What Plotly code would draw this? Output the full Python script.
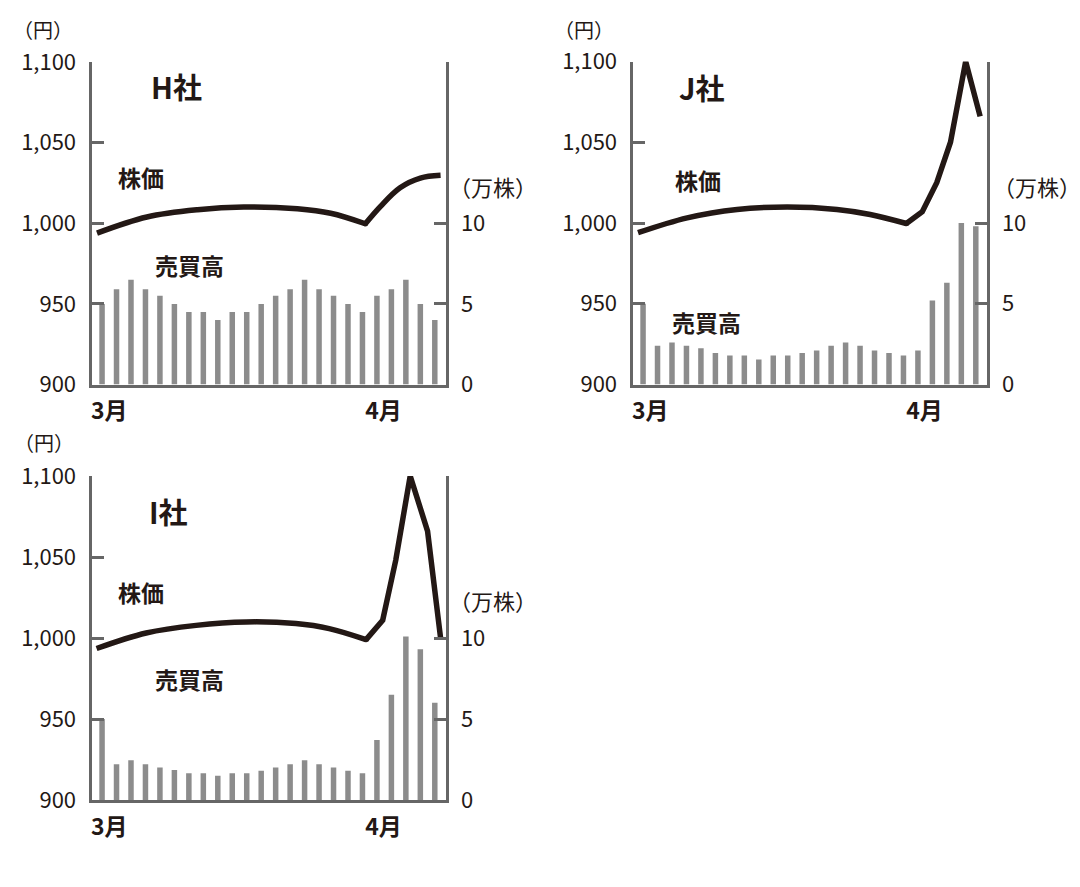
import plotly.graph_objects as go

W, H = 1080, 887

days = list(range(24))

# 売買高 (万株)
vol_H = [5.0, 5.9, 6.5, 5.9, 5.5, 5.0, 4.5, 4.5, 4.0, 4.5, 4.5, 5.0,
         5.5, 5.9, 6.5, 5.9, 5.5, 5.0, 4.5, 5.5, 5.9, 6.5, 5.0, 4.0]
vol_J = [5.0, 2.4, 2.6, 2.4, 2.25, 1.95, 1.8, 1.8, 1.55, 1.8, 1.8, 1.95,
         2.1, 2.4, 2.6, 2.4, 2.1, 1.95, 1.8, 2.1, 5.2, 6.3, 10.0, 9.8]
vol_I = [5.0, 2.2, 2.45, 2.2, 2.0, 1.85, 1.65, 1.65, 1.5, 1.65, 1.65, 1.8,
         2.0, 2.2, 2.45, 2.2, 2.0, 1.8, 1.65, 3.7, 6.5, 10.1, 9.3, 6.0]

# 株価 (円) : smooth part up to the dip, then the April part
curve_x_H = [-0.35, 3.1, 6.6, 9.8, 13.5, 15.8, 18.2]
curve_y_H = [993.9, 1003.9, 1008.4, 1010.1, 1009.0, 1006.2, 999.7]
rise_x_H = [18.2, 19.25, 20.6, 22.0, 23.4]
rise_y_H = [999.7, 1010.5, 1022.0, 1028.0, 1029.7]

curve_x_J = [-0.35, 3.05, 6.5, 9.97, 13.4, 15.7, 18.2]
curve_y_J = [994.0, 1003.2, 1008.4, 1009.9, 1008.4, 1005.3, 999.7]
rise_x_J = [18.2, 19.3, 20.3, 21.25, 22.3, 23.3]
rise_y_J = [999.7, 1007.0, 1025.0, 1050.0, 1100.0, 1066.0]

curve_x_I = [-0.38, 3.05, 6.5, 9.97, 13.4, 15.7, 18.25]
curve_y_I = [993.5, 1003.1, 1007.8, 1009.9, 1008.9, 1005.8, 999.0]
rise_x_I = [18.25, 19.4, 20.3, 21.3, 22.5, 23.4]
rise_y_I = [999.0, 1011.0, 1048.0, 1100.0, 1066.0, 1000.0]

price_ticks = [900, 950, 1000, 1050, 1100]
price_labels = ["900", "950", "1,000", "1,050", "1,100"]
vol_ticks = [0, 5, 10]
vol_labels = ["0", "5", "10"]
month_ticks = [0.5, 19.45]
month_labels = ["3月", "4月"]

INK = "#231815"
AXIS = "#666666"
BAR = "#8c8c8c"
FONT = "Noto Sans CJK JP"


def px(x, y):
    return x / W, 1 - y / H


panels = [
    dict(name="H社", vol=vol_H, cx=curve_x_H, cy=curve_y_H, rx=rise_x_H, ry=rise_y_H,
         rshape="spline", xd=(91.5, 445.5), yd=(62, 384.5)),
    dict(name="J社", vol=vol_J, cx=curve_x_J, cy=curve_y_J, rx=rise_x_J, ry=rise_y_J,
         rshape="linear", xd=(632.5, 986.5), yd=(61.5, 384.5)),
    dict(name="I社", vol=vol_I, cx=curve_x_I, cy=curve_y_I, rx=rise_x_I, ry=rise_y_I,
         rshape="linear", xd=(91.5, 445.5), yd=(476, 800)),
]

fig = go.Figure()
layout = dict(
    template="none",
    width=W, height=H, margin=dict(l=0, r=0, t=0, b=0, pad=0, autoexpand=False),
    paper_bgcolor="white", plot_bgcolor="rgba(0,0,0,0)",
    showlegend=False, font=dict(family=FONT, color=INK, size=20),
    annotations=[],
)

for k, p in enumerate(panels):
    xs = "x" if k == 0 else f"x{k+1}"
    yv_i = 2 * k + 1
    yp_i = 2 * k + 2
    yv = "y" if yv_i == 1 else f"y{yv_i}"
    yp = f"y{yp_i}"
    xkey = "xaxis" if k == 0 else f"xaxis{k+1}"
    yvkey = "yaxis" if yv_i == 1 else f"yaxis{yv_i}"
    ypkey = f"yaxis{yp_i}"

    x0, x1 = p["xd"]
    yt, yb = p["yd"]
    xdom = [x0 / W, x1 / W]
    ydom = [1 - yb / H, 1 - yt / H]

    layout[xkey] = dict(
        domain=xdom, anchor=yv, range=[-0.73, 23.74], automargin=False,
        showline=True, linecolor=AXIS, linewidth=3, showgrid=False, zeroline=False,
        ticks="", tickvals=month_ticks, ticktext=month_labels,
        tickfont=dict(family=FONT, size=23, color=INK, weight="bold"),
        ticklabelstandoff=4,
    )
    layout[yvkey] = dict(
        domain=ydom, anchor=xs, side="right", range=[0, 20], automargin=False,
        showline=True, linecolor=AXIS, linewidth=3, showgrid=False, zeroline=False,
        ticks="inside", ticklen=12, tickwidth=3, tickcolor=AXIS,
        tickvals=vol_ticks, ticktext=vol_labels,
        tickfont=dict(family=FONT, size=22, color=INK), ticklabelstandoff=8,
    )
    layout[ypkey] = dict(
        domain=ydom, anchor=xs, overlaying=yv, side="left", range=[900, 1100],
        automargin=False,
        showline=True, linecolor=AXIS, linewidth=3, showgrid=False, zeroline=False,
        ticks="inside", ticklen=12, tickwidth=3, tickcolor=AXIS,
        tickvals=price_ticks, ticktext=price_labels,
        tickfont=dict(family=FONT, size=22, color=INK), ticklabelstandoff=8,
    )

    fig.add_trace(go.Bar(x=days, y=p["vol"], xaxis=xs, yaxis=yv, width=0.38,
                         marker=dict(color=BAR, line=dict(width=0))))
    fig.add_trace(go.Scatter(x=p["cx"], y=p["cy"], xaxis=xs, yaxis=yp, mode="lines",
                             line=dict(color=INK, width=5.5, shape="spline", smoothing=1.0)))
    fig.add_trace(go.Scatter(x=p["rx"], y=p["ry"], xaxis=xs, yaxis=yp, mode="lines",
                             line=dict(color=INK, width=5.5, shape=p["rshape"], smoothing=1.0)))
    fig.add_trace(go.Scatter(x=[p["rx"][0]], y=[p["ry"][0]], xaxis=xs, yaxis=yp,
                             mode="markers", marker=dict(color=INK, size=5.5)))

labels = [
    ("（円）", 43, 29, 20, False), ("H社", 176, 86, 29, True),
    ("株価", 141, 177, 23, True), ("売買高", 189, 265, 23, True),
    ("（万株）", 493, 186, 22, False),
    ("（円）", 584, 29, 20, False), ("J社", 701, 87, 29, True),
    ("株価", 698, 180, 23, True), ("売買高", 706, 322, 23, True),
    ("（万株）", 1037, 186, 22, False),
    ("（円）", 44, 442, 20, False), ("I社", 168, 511, 29, True),
    ("株価", 141, 592, 23, True), ("売買高", 189, 679, 23, True),
    ("（万株）", 493, 600, 22, False),
]
for text, x, y, size, bold in labels:
    ax, ay = px(x, y)
    layout["annotations"].append(dict(
        text=f"<b>{text}</b>" if bold else text, x=ax, y=ay, xref="paper", yref="paper",
        xanchor="center", yanchor="middle", showarrow=False,
        font=dict(family=FONT, size=size, color=INK)))

fig.update_layout(**layout)
fig.write_html(
    "out.html",
    config={"displayModeBar": False},
    post_script="document.body.style.margin='0';document.body.style.overflow='hidden';",
)
